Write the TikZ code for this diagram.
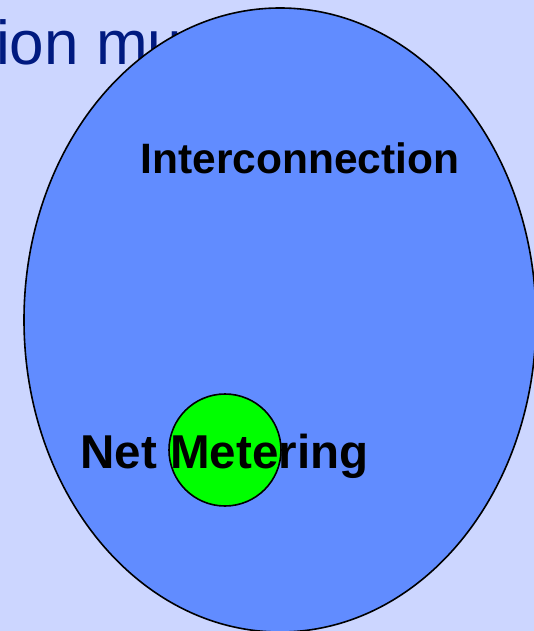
\documentclass[tikz,border=0pt]{standalone}
\usepackage{fontspec}
\setmainfont{Liberation Sans}
\usepackage{tikz}

\definecolor{slidebg}{RGB}{204,214,255}
\definecolor{setblue}{RGB}{97,140,255}
\definecolor{titleblue}{RGB}{0,26,128}
\definecolor{setgreen}{RGB}{0,255,0}

\begin{document}
\begin{tikzpicture}[x=1pt,y=-1pt]
        \fill[slidebg] (0,0) rectangle (534,631);
        \useasboundingbox (0,0) rectangle (534,631);
        \node[font = {\fontsize{62}{70}\selectfont}, titleblue, anchor=base west, inner sep=0] (title) at (-4, 65) {ion mu};
        \draw[line width=1.6pt, fill=setblue] (280, 320) ellipse [x radius=256, y radius=312];
        \node[font = {\fontsize{42.5}{48}\selectfont\bfseries}, black, anchor=base, inner sep=0] (inter) at (300, 173) {Interconnection};
        \draw[line width=1.6pt, fill=setgreen] (225, 450) circle [radius=56];
        \node[font = {\fontsize{47.5}{54}\selectfont\bfseries}, black, anchor=base, inner sep=0] (net) at (224.5, 468) {Net Metering};
    \end{tikzpicture}
\end{document}
